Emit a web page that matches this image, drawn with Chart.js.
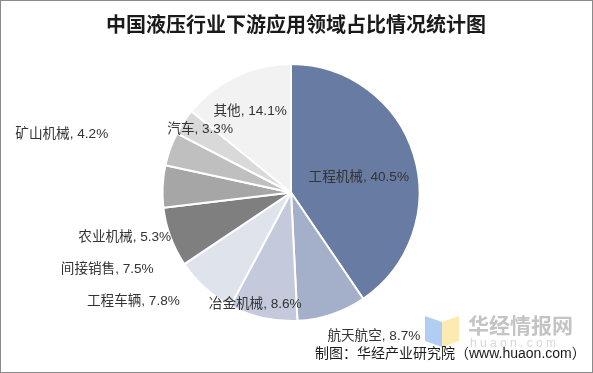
<!DOCTYPE html>
<html>
<head>
<meta charset="utf-8">
<script src="https://cdn.jsdelivr.net/npm/chart.js@4.4.1/dist/chart.umd.min.js"></script>
<style>
html,body{margin:0;padding:0;background:#fff;}
#wrap{width:593px;height:373px;position:relative;}
</style>
</head>
<body>
<div id="wrap"><canvas id="c" width="593" height="373"></canvas></div>
<script>
const title = '中国液压行业下游应用领域占比情况统计图';
const source = '制图：华经产业研究院（www.huaon.com）';
const categories = ['工程机械', '航天航空', '冶金机械', '工程车辆', '间接销售', '农业机械', '矿山机械', '汽车', '其他'];
const shares = [40.5, 8.7, 8.6, 7.8, 7.5, 5.3, 4.2, 3.3, 14.1];
const sliceColors = ['#687ba3', '#a4afc9', '#c4cadb', '#dfe3ec', '#7f7f7f', '#a6a6a6', '#bfbfbf', '#d9d9d9', '#f2f2f2'];
// label placement: canvas angle (deg) and distance as fraction of radius
const labelAngle = [-12.4, 60.0, 107.8, 145.4, 157.3, 164.9, -165.8, -145.3, -116.6];
const labelDist  = [0.54, 1.29, 0.91, 1.49, 1.55, 1.34, 1.84, 0.86, 0.71];

const decor = {
  id: 'decor',
  beforeDraw(chart) {
    const ctx = chart.ctx;
    ctx.save();
    ctx.fillStyle = '#fff';
    ctx.fillRect(0, 0, chart.width, chart.height);
    ctx.restore();
  },
  afterDraw(chart) {
    const ctx = chart.ctx;
    ctx.save();
    // border
    ctx.strokeStyle = '#8a8a8a';
    ctx.lineWidth = 1;
    ctx.strokeRect(0.5, 0.5, chart.width - 1, chart.height - 1);
    // title
    ctx.fillStyle = '#1a1a1a';
    ctx.font = 'bold 20px "Noto Sans CJK SC"';
    ctx.textAlign = 'center';
    ctx.textBaseline = 'middle';
    ctx.fillText(title, 296, 24);
    // labels
    const meta = chart.getDatasetMeta(0);
    const arc0 = meta.data[0];
    const cx = arc0.x, cy = arc0.y, R = arc0.outerRadius;
    ctx.font = '13.6px "Liberation Sans", "Noto Sans CJK SC"';
    ctx.fillStyle = '#333333';
    categories.forEach((name, i) => {
      const a = labelAngle[i] * Math.PI / 180;
      const d = labelDist[i] * R;
      const x = cx + d * Math.cos(a), y = cy + d * Math.sin(a);
      ctx.fillText(name + ', ' + shares[i].toFixed(1) + '%', x, y);
    });
    // watermark logo
    ctx.globalAlpha = 0.9;
    ctx.fillStyle = '#a9c8f2';
    ctx.beginPath();
    ctx.moveTo(425, 316); ctx.lineTo(442, 322); ctx.lineTo(442, 347); ctx.lineTo(425, 341); ctx.closePath(); ctx.fill();
    ctx.fillStyle = '#fbe9a8';
    ctx.beginPath();
    ctx.moveTo(442, 322); ctx.lineTo(459, 316); ctx.lineTo(459, 341); ctx.lineTo(442, 347); ctx.closePath(); ctx.fill();
    ctx.globalAlpha = 1;
    ctx.fillStyle = '#c4c4c4';
    ctx.font = 'bold 21px "Noto Sans CJK SC"';
    ctx.textAlign = 'left';
    ctx.fillText('华经情报网', 468, 325);
    ctx.fillStyle = '#d8d8d8';
    ctx.font = '12px "Liberation Sans"';
    ctx.fillText('h u a o n . c o m', 470, 344);
    // source
    ctx.fillStyle = '#1a1a1a';
    ctx.font = '14px "Liberation Sans", "Noto Sans CJK SC"';
    ctx.textAlign = 'left';
    ctx.fillText(source, 315, 354);
    ctx.restore();
  }
};

new Chart(document.getElementById('c'), {
  type: 'pie',
  data: {
    labels: categories,
    datasets: [{
      data: shares,
      backgroundColor: sliceColors,
      borderColor: '#ffffff',
      borderWidth: 2
    }]
  },
  options: {
    responsive: false,
    animation: false,
    devicePixelRatio: 1,
    layout: { padding: { top: 63, bottom: 51, left: 0, right: 11 } },
    plugins: { legend: { display: false }, tooltip: { enabled: false }, title: { display: false } }
  },
  plugins: [decor]
});
</script>
</body>
</html>
